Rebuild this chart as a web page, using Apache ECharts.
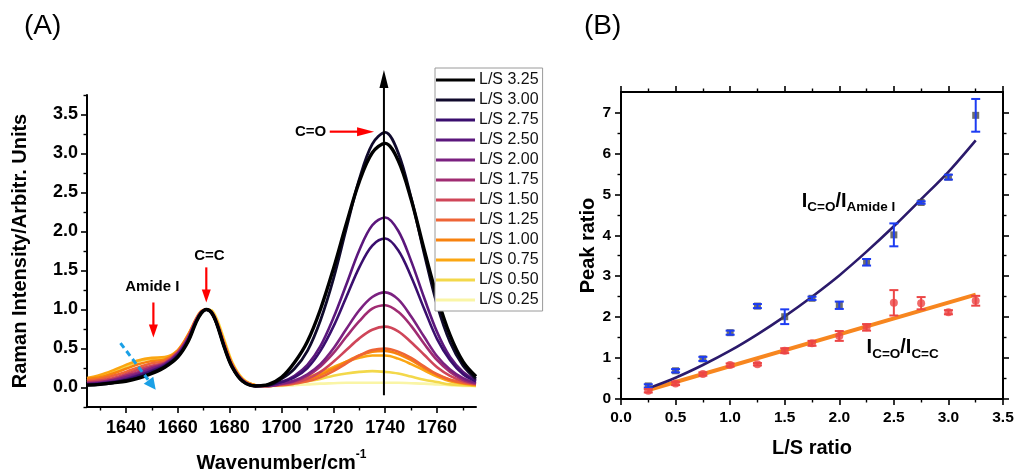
<!DOCTYPE html>
<html>
<head>
<meta charset="utf-8">
<script src="https://cdn.jsdelivr.net/npm/echarts@6/dist/echarts.min.js"></script>
<style>html,body{margin:0;padding:0;background:#fff}#c{width:1014px;height:470px}</style>
</head>
<body>
<div id="c"></div>
<script>
// ---------- Panel (A) data: Raman spectra ----------
const wavenumbers = [1625,1630,1635,1640,1645,1650,1655,1660,1664,1667,1669,1671,1673,1675,1678,1681,1685,1690,1695,
  1700,1705,1710,1715,1720,1725,1730,1735,1740,1745,1750,1755,1760,1765,1770,1775];
const ls325 = [0.03,0.04,0.06,0.08,0.12,0.18,0.26,0.39,0.59,0.83,0.95,1.00,0.96,0.82,0.51,0.26,0.08,0.02,0.04,
  0.13,0.32,0.59,1.00,1.52,2.10,2.64,3.01,3.13,2.91,2.41,1.77,1.16,0.67,0.33,0.14];
const ls300 = [0.03,0.04,0.06,0.09,0.13,0.19,0.27,0.40,0.60,0.84,0.95,1.00,0.96,0.82,0.51,0.26,0.08,0.02,0.03,
  0.11,0.24,0.47,0.86,1.39,2.04,2.67,3.12,3.27,3.01,2.43,1.72,1.06,0.58,0.28,0.11];
const ls275 = [0.04,0.05,0.07,0.10,0.15,0.21,0.28,0.41,0.61,0.84,0.96,1.00,0.96,0.82,0.52,0.26,0.08,0.02,0.03,
  0.07,0.13,0.25,0.47,0.78,1.16,1.54,1.82,1.91,1.76,1.42,1.01,0.62,0.35,0.17,0.08];
const ls250 = [0.04,0.05,0.07,0.11,0.16,0.22,0.29,0.42,0.62,0.85,0.96,1.00,0.96,0.82,0.52,0.27,0.09,0.02,0.03,
  0.07,0.15,0.29,0.53,0.89,1.32,1.76,2.08,2.18,2.01,1.62,1.15,0.71,0.39,0.20,0.09];
const ls200 = [0.05,0.06,0.09,0.13,0.18,0.24,0.30,0.43,0.63,0.85,0.96,1.00,0.96,0.83,0.52,0.27,0.09,0.02,0.02,
  0.05,0.09,0.17,0.30,0.50,0.75,0.99,1.16,1.22,1.13,0.91,0.65,0.40,0.23,0.12,0.06];
const ls175 = [0.06,0.07,0.10,0.15,0.20,0.26,0.31,0.44,0.64,0.86,0.97,1.00,0.97,0.83,0.53,0.27,0.09,0.02,0.02,
  0.045,0.08,0.15,0.27,0.44,0.65,0.85,1.01,1.055,0.97,0.79,0.56,0.35,0.20,0.10,0.05];
const ls150 = [0.07,0.09,0.12,0.17,0.23,0.28,0.32,0.45,0.65,0.86,0.97,1.00,0.97,0.84,0.54,0.28,0.09,0.02,0.02,
  0.04,0.06,0.11,0.20,0.33,0.48,0.63,0.74,0.78,0.72,0.58,0.42,0.26,0.15,0.08,0.045];
const ls125 = [0.09,0.11,0.15,0.20,0.26,0.31,0.34,0.46,0.66,0.87,0.97,1.00,0.97,0.84,0.55,0.29,0.10,0.02,0.02,
  0.03,0.05,0.08,0.13,0.21,0.31,0.41,0.48,0.50,0.46,0.38,0.27,0.17,0.10,0.06,0.04];
const ls100 = [0.11,0.13,0.18,0.24,0.30,0.34,0.36,0.47,0.67,0.87,0.97,1.00,0.97,0.85,0.56,0.30,0.10,0.03,0.02,
  0.04,0.06,0.10,0.16,0.24,0.33,0.41,0.46,0.47,0.43,0.35,0.25,0.16,0.10,0.06,0.04];
const ls075 = [0.12,0.16,0.22,0.29,0.35,0.38,0.39,0.48,0.68,0.88,0.98,1.00,0.98,0.86,0.58,0.31,0.11,0.03,0.02,
  0.05,0.08,0.13,0.19,0.26,0.33,0.38,0.41,0.41,0.37,0.30,0.22,0.14,0.08,0.05,0.03];
const ls050 = [0.09,0.13,0.19,0.27,0.34,0.37,0.38,0.47,0.67,0.87,0.97,1.00,0.99,0.88,0.60,0.32,0.11,0.03,0.02,
  0.03,0.05,0.08,0.11,0.15,0.18,0.20,0.21,0.20,0.18,0.14,0.10,0.07,0.04,0.03,0.02];
const ls025 = [0.07,0.11,0.17,0.26,0.34,0.37,0.38,0.47,0.66,0.86,0.96,1.00,0.99,0.89,0.61,0.33,0.12,0.03,0.02,
  0.02,0.03,0.04,0.05,0.055,0.06,0.06,0.06,0.06,0.06,0.055,0.05,0.04,0.03,0.02,0.02];
const specXTicks = [1640,1660,1680,1700,1720,1740,1760];
const specXMinor = [1630,1650,1670,1690,1710,1730,1750,1770];
const specYTicks = [0,0.5,1,1.5,2,2.5,3,3.5];
const specYMinor = [-0.25,0.25,0.75,1.25,1.75,2.25,2.75,3.25,3.75];

// ---------- Panel (B) data: peak ratios ----------
const lsRatio = [0.25,0.5,0.75,1.0,1.25,1.5,1.75,2.0,2.25,2.5,2.75,3.0,3.25];
const amideRatio = [0.32,0.69,0.98,1.62,2.27,2.01,2.46,2.29,3.34,4.01,4.80,5.42,6.93];
const amideErr   = [0.04,0.04,0.05,0.05,0.05,0.18,0.04,0.09,0.08,0.28,0.03,0.06,0.40];
const amideFit   = [0.26,0.52,0.83,1.18,1.58,2.02,2.50,3.02,3.60,4.22,4.88,5.55,6.32];
const ccRatio = [0.20,0.38,0.61,0.83,0.85,1.18,1.36,1.54,1.75,2.35,2.34,2.12,2.40];
const ccErr   = [0.04,0.04,0.04,0.04,0.03,0.06,0.06,0.12,0.08,0.31,0.15,0.05,0.12];
const ccFitX = [0.25,3.25];
const ccFit  = [0.22,2.55];
const ratioYTicks = [0,1,2,3,4,5,6,7];
const ratioYMinor = [0.5,1.5,2.5,3.5,4.5,5.5,6.5];

// ---------- styling ----------
const FONT = "'Liberation Sans', Arial, Helvetica, sans-serif";
const spectraStyle = [
  {name:'L/S 0.25', data:ls025, color:'#faf5a6', w:2.6},
  {name:'L/S 0.50', data:ls050, color:'#f3d84a', w:2.6},
  {name:'L/S 0.75', data:ls075, color:'#fba612', w:2.6},
  {name:'L/S 1.00', data:ls100, color:'#f7820f', w:2.6},
  {name:'L/S 1.25', data:ls125, color:'#ee6436', w:2.6},
  {name:'L/S 1.50', data:ls150, color:'#cf4659', w:2.6},
  {name:'L/S 1.75', data:ls175, color:'#a02c72', w:2.6},
  {name:'L/S 2.00', data:ls200, color:'#7b2180', w:2.6},
  {name:'L/S 2.50', data:ls250, color:'#5b177c', w:2.6},
  {name:'L/S 2.75', data:ls275, color:'#3a0e6e', w:2.6},
  {name:'L/S 3.00', data:ls300, color:'#100a2c', w:2.8},
  {name:'L/S 3.25', data:ls325, color:'#000000', w:3.4}
];

const axLine = {show:true, onZero:false, lineStyle:{color:'#000', width:2}};
const noLine = {show:false, onZero:false};
function majorTick(vals){ const t={show:true, length:6, lineStyle:{color:'#000', width:1.6}}; if(vals) t.customValues=vals; return t; }
function minorTick(vals){ return {show:true, length:3.5, customValues:vals, lineStyle:{color:'#000', width:1.4}}; }

const chart = echarts.init(document.getElementById('c'));

const series = [];
spectraStyle.forEach(s => {
  series.push({
    type:'line', name:s.name, xAxisIndex:0, yAxisIndex:0,
    data: wavenumbers.map((w,i)=>[w, s.data[i]]),
    smooth:0.35, symbol:'none', showSymbol:false,
    color:s.color, lineStyle:{color:s.color, width:s.w}, itemStyle:{color:s.color},
    emphasis:{disabled:true}, silent:true, animation:false
  });
});

function errorBars(xs, ys, errs, color){
  return {
    type:'custom', xAxisIndex:2, yAxisIndex:2, z:5, animation:false, silent:true,
    data: xs.map((x,i)=>[x, ys[i]-errs[i], ys[i]+errs[i]]),
    encode:{x:0, y:[1,2]},
    renderItem:(params, api)=>{
      const x = api.value(0);
      const lo = api.coord([x, api.value(1)]);
      const hi = api.coord([x, api.value(2)]);
      const hw = 4.5;
      const st = {stroke:color, lineWidth:2, fill:null};
      return {type:'group', children:[
        {type:'line', shape:{x1:lo[0], y1:lo[1], x2:hi[0], y2:hi[1]}, style:st},
        {type:'line', shape:{x1:lo[0]-hw, y1:lo[1], x2:lo[0]+hw, y2:lo[1]}, style:st},
        {type:'line', shape:{x1:hi[0]-hw, y1:hi[1], x2:hi[0]+hw, y2:hi[1]}, style:st}
      ]};
    }
  };
}

series.push({type:'line', name:'ccFit', xAxisIndex:2, yAxisIndex:2, data: ccFitX.map((x,i)=>[x, ccFit[i]]),
  symbol:'none', lineStyle:{color:'#f7861f', width:4}, z:2, animation:false, silent:true});
series.push({type:'line', name:'amideFit', xAxisIndex:2, yAxisIndex:2, data: lsRatio.map((x,i)=>[x, amideFit[i]]),
  smooth:0.3, symbol:'none', lineStyle:{color:'#2b1a6b', width:2.6}, z:2, animation:false, silent:true});
series.push({type:'scatter', name:'amidePts', xAxisIndex:2, yAxisIndex:2, data: lsRatio.map((x,i)=>[x, amideRatio[i]]),
  symbol:'rect', symbolSize:7, itemStyle:{color:'#4a4a4a'}, z:4, animation:false, silent:true});
series.push({type:'scatter', name:'ccPts', xAxisIndex:2, yAxisIndex:2, data: lsRatio.map((x,i)=>[x, ccRatio[i]]),
  symbol:'circle', symbolSize:8, itemStyle:{color:'#ec4545'}, z:4, animation:false, silent:true});
series.push(errorBars(lsRatio, amideRatio, amideErr, '#1d3cf2'));
series.push(errorBars(lsRatio, ccRatio, ccErr, '#ec4545'));

const tickLabelA = {fontFamily:FONT, fontWeight:'bold', fontSize:18, color:'#000'};
const tickLabelB = {fontFamily:FONT, fontWeight:'bold', fontSize:15.5, color:'#000'};

const option = {
  animation:false,
  backgroundColor:'#fff',
  grid:[
    {left:87, top:95, width:389, height:312, containLabel:false, outerBoundsMode:'none'},
    {left:621, top:92, width:382, height:307, containLabel:false, outerBoundsMode:'none'}
  ],
  xAxis:[
    {gridIndex:0, type:'value', position:'bottom', min:1625, max:1775, axisLine:axLine, axisTick:majorTick(specXTicks),
     axisLabel:Object.assign({customValues:specXTicks, margin:12, formatter:v=>String(v)}, tickLabelA), splitLine:{show:false},
     name:'{a|Wavenumber/cm}{b|-1}', nameLocation:'middle', nameGap:42,
     nameTextStyle:{rich:{a:{fontFamily:FONT, fontWeight:'bold', fontSize:20, color:'#000', lineHeight:24, verticalAlign:'bottom'},
                          b:{fontFamily:FONT, fontWeight:'bold', fontSize:12, color:'#000', lineHeight:24, verticalAlign:'top'}}}},
    {gridIndex:0, type:'value', position:'bottom', min:1625, max:1775, axisLine:noLine, axisTick:minorTick(specXMinor),
     axisLabel:{show:false}, splitLine:{show:false}},
    {gridIndex:1, type:'value', position:'bottom', min:0, max:3.5, interval:0.5, axisLine:axLine, axisTick:majorTick(),
     minorTick:{show:true, splitNumber:2, length:3.5, lineStyle:{color:'#000', width:1.4}},
     axisLabel:Object.assign({margin:11, formatter:v=>v.toFixed(1)}, tickLabelB), splitLine:{show:false}, minorSplitLine:{show:false},
     name:'L/S ratio', nameLocation:'middle', nameGap:39,
     nameTextStyle:{fontFamily:FONT, fontWeight:'bold', fontSize:20, color:'#000'}},
    {gridIndex:1, type:'value', position:'top', min:0, max:3.5, interval:0.5, axisLine:axLine, axisTick:majorTick(),
     minorTick:{show:true, splitNumber:2, length:3.5, lineStyle:{color:'#000', width:1.4}},
     axisLabel:{show:false}, splitLine:{show:false}, minorSplitLine:{show:false}}
  ],
  yAxis:[
    {gridIndex:0, type:'value', position:'left', min:-0.25, max:3.75, axisLine:axLine, axisTick:majorTick(specYTicks),
     axisLabel:Object.assign({customValues:specYTicks, margin:9, formatter:v=>v.toFixed(1)}, tickLabelA), splitLine:{show:false},
     name:'Raman Intensity/Arbitr. Units', nameLocation:'middle', nameGap:57,
     nameTextStyle:{fontFamily:FONT, fontWeight:'bold', fontSize:20, color:'#000'}},
    {gridIndex:0, type:'value', position:'left', min:-0.25, max:3.75, axisLine:noLine, axisTick:minorTick(specYMinor),
     axisLabel:{show:false}, splitLine:{show:false}},
    {gridIndex:1, type:'value', position:'left', min:0, max:7.5, axisLine:axLine, axisTick:majorTick(ratioYTicks),
     axisLabel:Object.assign({customValues:ratioYTicks, margin:10}, tickLabelB), splitLine:{show:false},
     name:'Peak ratio', nameLocation:'middle', nameGap:23,
     nameTextStyle:{fontFamily:FONT, fontWeight:'bold', fontSize:20, color:'#000'}},
    {gridIndex:1, type:'value', position:'left', min:0, max:7.5, axisLine:noLine, axisTick:minorTick(ratioYMinor),
     axisLabel:{show:false}, splitLine:{show:false}},
    {gridIndex:1, type:'value', position:'right', min:0, max:7.5, axisLine:axLine, axisTick:majorTick(ratioYTicks),
     axisLabel:{show:false}, splitLine:{show:false}},
    {gridIndex:1, type:'value', position:'right', min:0, max:7.5, axisLine:noLine, axisTick:minorTick(ratioYMinor),
     axisLabel:{show:false}, splitLine:{show:false}}
  ],
  legend:{
    data: spectraStyle.map(s=>s.name).reverse(),
    orient:'vertical', left:435, top:68,
    icon:'rect', itemWidth:39, itemHeight:3, itemGap:4,
    padding:[4,4,3,1], borderColor:'#9a9a9a', borderWidth:1, backgroundColor:'#fff',
    textStyle:{fontFamily:FONT, fontSize:16, color:'#111', lineHeight:16, padding:[0,0,0,-1]},
    selectedMode:false
  },
  series: series
};
chart.setOption(option);

// ---------- annotations (anchored in data units) ----------
const toA = (x,y)=>chart.convertToPixel({gridIndex:0}, [x,y]);
const toB = (x,y)=>chart.convertToPixel({gridIndex:1}, [x,y]);

function arrow(p0, p1, color, lw, headL, headW, dash){
  const dx=p1[0]-p0[0], dy=p1[1]-p0[1], len=Math.hypot(dx,dy), ux=dx/len, uy=dy/len;
  const bx=p1[0]-ux*headL, by=p1[1]-uy*headL, nx=-uy, ny=ux;
  return [
    {type:'line', shape:{x1:p0[0], y1:p0[1], x2:bx+ux*1, y2:by+uy*1}, style:{stroke:color, lineWidth:lw, lineDash:dash||null}, z:100},
    {type:'polygon', shape:{points:[[p1[0],p1[1]],[bx+nx*headW/2, by+ny*headW/2],[bx-nx*headW/2, by-ny*headW/2]]}, style:{fill:color}, z:100}
  ];
}
function label(p, text, size, align){
  return {type:'text', x:p[0], y:p[1], z:100,
    style:{text:text, fontFamily:FONT, fontWeight:'bold', fontSize:size, fill:'#000', align:align||'center', verticalAlign:'middle'}};
}
const richI = {
  i:{fontFamily:FONT, fontWeight:'bold', fontSize:20, fill:'#000', lineHeight:26, verticalAlign:'middle'},
  s:{fontFamily:FONT, fontWeight:'bold', fontSize:13.5, fill:'#000', lineHeight:26, verticalAlign:'bottom'}
};

const g = [];
// vertical black arrow through the C=O peak
g.push(...arrow(toA(1739.5,-0.10), toA(1739.5,4.07), '#000', 2, 18, 9));
// C=O
g.push(label(toA(1711.2,3.28), 'C=O', 15));
g.push(...arrow(toA(1718.6,3.28), toA(1735.7,3.28), '#ff0000', 2.2, 17, 9));
// C=C
g.push(label(toA(1672.2,1.69), 'C=C', 15));
g.push(...arrow(toA(1671.0,1.54), toA(1671.0,1.09), '#ff0000', 2.2, 13, 9));
// Amide I
g.push(label(toA(1650.2,1.29), 'Amide I', 15));
g.push(...arrow(toA(1650.6,1.09), toA(1650.6,0.64), '#ff0000', 2.2, 13, 9));
// blue dashed trend arrow
g.push(...arrow(toA(1637.9,0.57), toA(1651.5,-0.03), '#1aa0e6', 3, 12, 12, [6,4]));
// ratio labels in panel B
const pA = toB(1.656, 4.82);
g.push({type:'text', x:pA[0], y:pA[1], z:100, style:{text:'{i|I}{s|C=O}{i|/I}{s|Amide I}', rich:richI, align:'left', verticalAlign:'middle'}});
const pC = toB(2.25, 1.25);
g.push({type:'text', x:pC[0], y:pC[1], z:100, style:{text:'{i|I}{s|C=O}{i|/I}{s|C=C}', rich:richI, align:'left', verticalAlign:'middle'}});
// panel letters
g.push({type:'text', left:24, top:12, style:{text:'(A)', fontFamily:FONT, fontSize:28, fill:'#000'}});
g.push({type:'text', left:584, top:12, style:{text:'(B)', fontFamily:FONT, fontSize:28, fill:'#000'}});

chart.setOption({graphic:g});
</script>
</body>
</html>
